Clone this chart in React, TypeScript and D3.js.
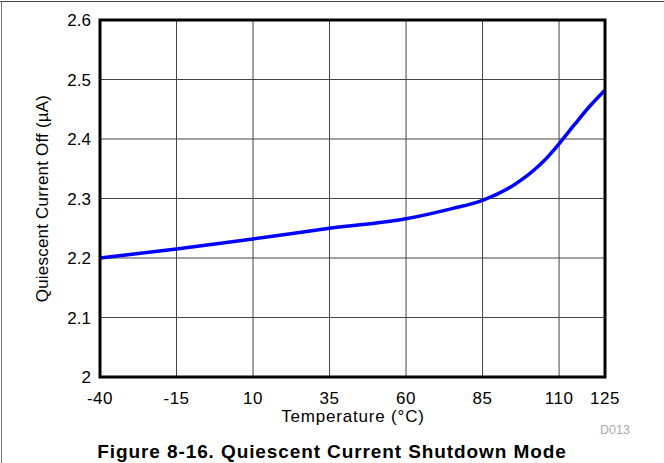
import React, { useEffect, useRef } from 'react';
import * as d3 from 'd3';

// values
const temps = [-40, -15, 10, 35, 60, 75, 85, 95, 100, 105, 110, 115, 120, 125];
const current = [2.2, 2.215, 2.232, 2.25, 2.266, 2.283, 2.297, 2.322, 2.34, 2.363, 2.392, 2.424, 2.455, 2.482];
const xTicks = [-40, -15, 10, 35, 60, 85, 110, 125];
const yTicks = [2, 2.1, 2.2, 2.3, 2.4, 2.5, 2.6];

const W = 664;
const H = 463;
const FONT = 'Arial, "Liberation Sans", Helvetica, sans-serif';

const App: React.FC = () => {
  const svgRef = useRef<SVGSVGElement | null>(null);

  useEffect(() => {
    if (!svgRef.current) return;
    const svg = d3.select(svgRef.current);
    svg.selectAll('*').remove();

    const left = 100, right = 605, top = 20, bottom = 377;
    const x = d3.scaleLinear().domain([-40, 125]).range([left, right]);
    const y = d3.scaleLinear().domain([2, 2.6]).range([bottom, top]);

    // outer frame (just top + left edge visible in the crop)
    svg.append('line').attr('x1', 0).attr('x2', W).attr('y1', 1.5).attr('y2', 1.5)
      .attr('stroke', '#444').attr('stroke-width', 1);
    svg.append('line').attr('x1', 1.5).attr('x2', 1.5).attr('y1', 1).attr('y2', H)
      .attr('stroke', '#777').attr('stroke-width', 1);

    const grid = svg.append('g');
    grid.selectAll('.gx').data(xTicks).enter().append('line')
      .attr('x1', d => x(d)).attr('x2', d => x(d))
      .attr('y1', top).attr('y2', bottom)
      .attr('stroke', '#444').attr('stroke-width', 1);
    grid.selectAll('.gy').data(yTicks).enter().append('line')
      .attr('x1', left).attr('x2', right)
      .attr('y1', d => y(d)).attr('y2', d => y(d))
      .attr('stroke', '#444').attr('stroke-width', 1);

    // tick labels
    svg.append('g').selectAll('text').data(yTicks).enter().append('text')
      .attr('x', 91).attr('y', d => y(d) + 6)
      .attr('text-anchor', 'end')
      .style('font-family', FONT).style('font-size', '17px').style('fill', '#000')
      .text(d => d === 2 ? '2' : d3.format('.1f')(d));

    svg.append('g').selectAll('text').data(xTicks).enter().append('text')
      .attr('x', d => x(d)).attr('y', 404)
      .attr('text-anchor', 'middle')
      .style('font-family', FONT).style('font-size', '17px').style('letter-spacing', '0.5px')
      .style('fill', '#000')
      .text(d => String(d));

    // the curve
    const line = d3.line<number>()
      .x((_, i) => x(temps[i]))
      .y(d => y(d))
      .curve(d3.curveMonotoneX);
    svg.append('path')
      .datum(current)
      .attr('d', line)
      .attr('fill', 'none')
      .attr('stroke', '#0000ff')
      .attr('stroke-width', 3.5)
      .attr('stroke-linejoin', 'round');

    // plot frame on top
    svg.append('rect')
      .attr('x', left).attr('y', top)
      .attr('width', right - left).attr('height', bottom - top)
      .attr('fill', 'none').attr('stroke', '#000').attr('stroke-width', 3);

    // axis titles
    svg.append('text')
      .attr('x', 353).attr('y', 422)
      .attr('text-anchor', 'middle')
      .style('font-family', FONT).style('font-size', '17px').style('letter-spacing', '0.8px')
      .style('fill', '#000')
      .text('Temperature (°C)');

    svg.append('text')
      .attr('transform', `translate(48,${(top + bottom) / 2}) rotate(-90)`)
      .attr('text-anchor', 'middle')
      .style('font-family', FONT).style('font-size', '17px').style('letter-spacing', '0.2px')
      .style('fill', '#000')
      .text('Quiescent Current Off (µA)');

    svg.append('text')
      .attr('x', 600).attr('y', 434)
      .style('font-family', FONT).style('font-size', '12.5px').style('fill', '#aaa')
      .text('D013');

    svg.append('text')
      .attr('x', 332).attr('y', 458)
      .attr('text-anchor', 'middle')
      .style('font-family', FONT).style('font-size', '19px').style('font-weight', 'bold')
      .style('letter-spacing', '0.9px').style('fill', '#000')
      .text('Figure 8-16. Quiescent Current Shutdown Mode');
  }, []);

  return (
    <svg ref={svgRef} width={W} height={H}
      style={{ position: 'absolute', left: 0, top: 0, background: '#fff' }} />
  );
};

export default App;
